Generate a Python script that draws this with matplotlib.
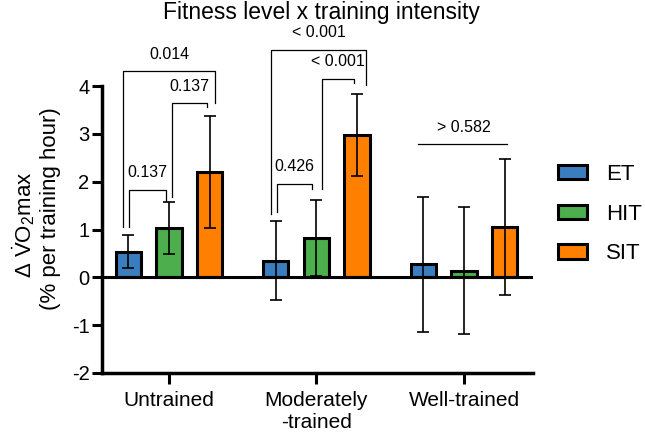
import numpy as np
import matplotlib
matplotlib.use('Agg')
import matplotlib.pyplot as plt

plt.rcParams['font.family'] = ['Liberation Sans', 'DejaVu Sans']
plt.rcParams['mathtext.fontset'] = 'custom'
plt.rcParams['mathtext.rm'] = 'Liberation Sans'
plt.rcParams['mathtext.it'] = 'Liberation Sans:italic'
plt.rcParams['axes.unicode_minus'] = False

### ----- data ----- ###
groups = ['Untrained', 'Moderately\n-trained', 'Well-trained']
series = ['ET', 'HIT', 'SIT']
colors = ['#3a7ebf', '#4cae4c', '#ff8000']

et_mean = [0.54, 0.35, 0.27]
et_err = [0.35, 0.82, 1.41]
hit_mean = [1.03, 0.82, 0.14]
hit_err = [0.54, 0.80, 1.33]
sit_mean = [2.20, 2.98, 1.05]
sit_err = [1.17, 0.86, 1.42]

# brackets: group, bar a, bar b, bar height (y), left end, right end, p text
brackets = [
    (0, 0, 1, 1.83, 1.05, 1.60, '0.137'),
    (0, 1, 2, 3.64, 1.68, 3.56, '0.137'),
    (0, 0, 2, 4.31, 1.05, 3.64, '0.014'),
    (1, 0, 1, 1.96, 1.37, 1.85, '0.426'),
    (1, 1, 2, 4.15, 1.85, 4.06, '< 0.001'),
    (1, 0, 2, 4.76, 1.33, 4.02, '< 0.001'),
]
wt_line = (2.78, '> 0.582')

### ----- plot ----- ###
fig = plt.figure(figsize=(6.45, 4.32), dpi=100)
ax = fig.add_axes([102/645, 1-373/432, (533-102)/645, (373-86)/432])

x = np.arange(len(groups))
off = 0.275
w = 0.17
means = [et_mean, hit_mean, sit_mean]
errs = [et_err, hit_err, sit_err]
bars = []
for i in range(3):
    xs = x + (i-1)*off
    b = ax.bar(xs, means[i], w, color=colors[i], edgecolor='black', linewidth=2.2,
               label=series[i], zorder=2)
    bars.append(b)
    ax.errorbar(xs, means[i], yerr=errs[i], fmt='none', ecolor='black',
                elinewidth=1.2, capsize=4.5, capthick=1.2, zorder=3)

ax.axhline(0, color='black', linewidth=2.2, zorder=4)

ax.set_xlim(-0.454, 2.468)
ax.set_ylim(-2, 4)
ax.set_yticks([-2, -1, 0, 1, 2, 3, 4])
ax.set_xticks(x)
ax.set_xticklabels(groups, fontsize=15)
ax.tick_params(axis='y', labelsize=14.5, width=2.2, length=7, pad=2)
ax.tick_params(axis='x', width=2.2, length=8, pad=5)
for s in ['top', 'right']:
    ax.spines[s].set_visible(False)
for s in ['left', 'bottom']:
    ax.spines[s].set_linewidth(2.5)

# brackets (pixel-tuned offsets relative to bars)
legs = {(0, 0, 1): (0.005, -0.02), (0, 1, 2): (0.02, -0.02), (0, 0, 2): (-0.04, 0.04),
        (1, 0, 1): (0.01, -0.03), (1, 1, 2): (0.04, -0.02), (1, 0, 2): (-0.03, 0.06)}
for g, a, b, yh, ya, yb, txt in brackets:
    da, db = legs[(g, a, b)]
    xa = g + (a-1)*off + da
    xb = g + (b-1)*off + db
    ax.plot([xa, xa, xb, xb], [ya, yh, yh, yb], color='black', linewidth=0.9,
            clip_on=False, zorder=5)
    ax.text((xa+xb)/2, yh+0.2, txt, ha='center', va='bottom', fontsize=11.5,
            clip_on=False)

yl, ltxt = wt_line
ax.plot([2-off-0.04, 2+off+0.015], [yl, yl], color='black', linewidth=0.9, clip_on=False)
ax.text(2, yl+0.2, ltxt, ha='center', va='bottom', fontsize=11.5)

fig.text(0.499, 1-12/432, 'Fitness level x training intensity', ha='center', va='center',
         fontsize=16.5)

fig.text(24/645, 1-225/432, r'$\Delta\ \dot{\mathrm{V}}\mathrm{O}_2\mathrm{max}$', rotation=90,
         ha='center', va='center', fontsize=16)
fig.text(51/645, 1-209/432, '(% per training hour)', rotation=90,
         ha='center', va='center', fontsize=16)

fig.legend(handles=bars, labels=series, loc='center left',
           bbox_to_anchor=(558/645, 1-214/432), frameon=False, fontsize=16,
           handlelength=1.3, handleheight=0.6, handletextpad=0.85,
           labelspacing=0.85, borderpad=0, borderaxespad=0)

plt.savefig('out.png', dpi=100)
